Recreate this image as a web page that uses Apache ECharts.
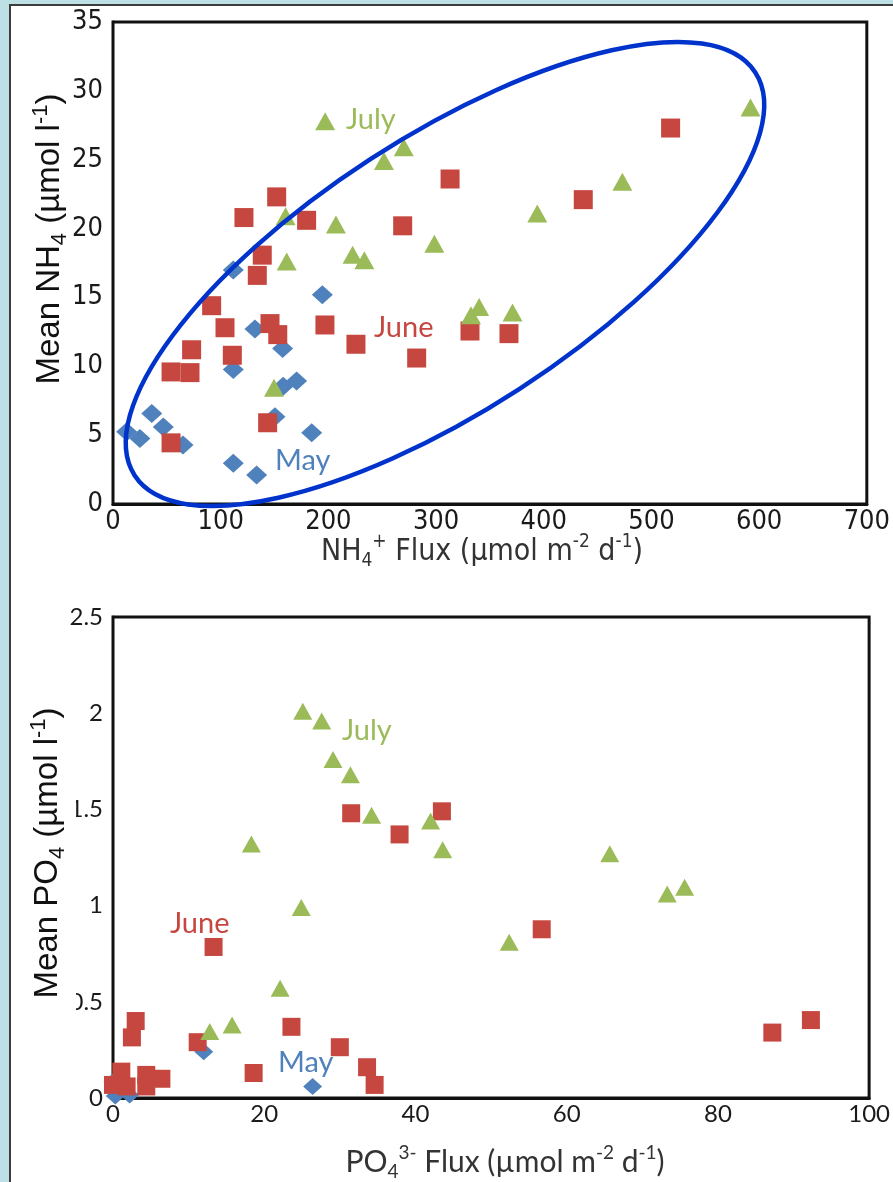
<!DOCTYPE html>
<html><head><meta charset="utf-8">
<script src="https://cdn.jsdelivr.net/npm/echarts@6/dist/echarts.min.js"></script>
<style>html,body{margin:0;padding:0;background:#bde0e5}#c{width:893px;height:1182px}</style>
</head><body><div id="c"></div><script>
// ---- Top panel: NH4 ----
var nh4XTicks = [0, 100, 200, 300, 400, 500, 600, 700];
var nh4YTicks = [0, 5, 10, 15, 20, 25, 30, 35];
var mayNH4Flux = [12.7, 25, 36, 46.7, 65, 111.7, 133.4, 111.7, 131.8, 157.5, 150.4, 158, 170.5, 184.5, 194.4, 111.7];
var mayNH4Conc = [5.24, 4.76, 6.57, 5.6, 4.28, 2.95, 2.1, 9.76, 12.7, 11.3, 6.33, 8.55, 8.94, 5.17, 15.2, 17.0];
var juneNH4Flux = [53.9, 53.9, 71.5, 73, 91.6, 104, 110.8, 145.8, 153, 196.8, 225.6, 282, 143.6, 152, 121.6, 138.6, 134, 179.8, 269, 313, 517.8, 436.7, 331.5, 367.7];
var juneNH4Conc = [4.44, 9.59, 9.54, 11.2, 14.4, 12.8, 10.8, 13.1, 12.3, 13.0, 11.6, 10.6, 5.9, 22.3, 20.8, 18.07, 16.6, 20.6, 20.2, 23.6, 27.3, 22.1, 12.56, 12.37];
var julyNH4Flux = [197, 270, 251.6, 160.3, 207, 298.4, 222.5, 233.4, 161.3, 149.5, 592, 473, 394, 340, 332.4, 371];
var julyNH4Conc = [27.8, 25.9, 24.9, 20.9, 20.3, 18.9, 18.1, 17.7, 17.6, 8.45, 28.8, 23.4, 21.1, 14.3, 13.7, 13.9];
// ---- Bottom panel: PO4 ----
var po4XTicks = [0, 20, 40, 60, 80, 100];
var po4YTicks = [0, 0.5, 1, 1.5, 2, 2.5];
var mayPO4Flux = [12, 26.4, 0, 0.3, 2.2];
var mayPO4Conc = [0.24, 0.06, 0.085, 0.01, 0.015];
var junePO4Flux = [31.5, 43.5, 37.9, 56.7, 87.2, 92.3, 13.3, 3.0, 2.5, 11.2, 23.6, 30, 18.6, 33.6, 34.6, 1.1, 0, 4.4, 6.4, 4.4, 1.8];
var junePO4Conc = [1.48, 1.49, 1.37, 0.877, 0.34, 0.405, 0.785, 0.40, 0.315, 0.29, 0.37, 0.264, 0.13, 0.16, 0.068, 0.137, 0.068, 0.12, 0.10, 0.06, 0.06];
var julyPO4Flux = [25.1, 27.6, 29.1, 31.4, 34.2, 18.3, 42, 43.6, 24.9, 65.7, 73.3, 75.6, 52.4, 22.1, 12.8, 15.75];
var julyPO4Conc = [2.01, 1.96, 1.76, 1.68, 1.47, 1.32, 1.44, 1.29, 0.99, 1.27, 1.06, 1.095, 0.81, 0.57, 0.345, 0.38];

var colors = {May: '#4f81bd', June: '#c5473f', July: '#9bbb59'};

function zip(a, b) { return a.map(function (v, i) { return [v, b[i]]; }); }

var narrow = '"Liberation Sans Narrow","DejaVu Sans Condensed","Roboto",sans-serif';
var calib = 'Lato,"Open Sans",sans-serif';
var arial = '"Liberation Sans",Arial,sans-serif';

function axisPair(gi, xt, yt, labelFont, labelSize) {
  var line = {show: true, onZero: false, lineStyle: {color: '#111', width: 3}};
  var tick = {show: true, inside: true, length: 6, lineStyle: {color: '#111', width: 2}};
  return {
    x: {type: 'value', gridIndex: gi, min: xt[0], max: xt[xt.length - 1], interval: xt[1] - xt[0],
        axisLine: line, axisTick: tick, splitLine: {show: false},
        axisLabel: {color: '#1a1a1a', fontFamily: labelFont, fontSize: labelSize, margin: 4}},
    y: {type: 'value', gridIndex: gi, min: yt[0], max: yt[yt.length - 1], interval: yt[1] - yt[0],
        axisLine: line, axisTick: tick, splitLine: {show: false},
        axisLabel: {color: '#1a1a1a', fontFamily: labelFont, fontSize: labelSize, margin: 10}}
  };
}
var a1 = axisPair(0, nh4XTicks, nh4YTicks, narrow, 27);
var a2 = axisPair(1, po4XTicks, po4YTicks, calib, 24);

function sc(name, gi, x, y, symbol, size) {
  return {type: 'scatter', name: name, xAxisIndex: gi, yAxisIndex: gi, data: zip(x, y),
    symbol: symbol, symbolSize: size, clip: false, silent: true,
    itemStyle: {color: colors[name], opacity: 1}};
}

function richTitle(text, font, size, color, subScale) {
  var s = Math.round(size * (subScale || 0.62));
  return {
    text: text,
    font: size + 'px ' + font,
    fill: color,
    align: 'center', verticalAlign: 'middle',
    rich: {
      n: {fontFamily: font, fontSize: size, lineHeight: size + 8, verticalAlign: 'middle', fill: color},
      sub: {fontFamily: font, fontSize: s, lineHeight: s, verticalAlign: 'bottom', fill: color},
      sup: {fontFamily: font, fontSize: s, lineHeight: s, verticalAlign: 'top', fill: color}
    }
  };
}

function monthLabel(t, x, y) {
  return {type: 'text', x: x, y: y, z: 50,
    style: {text: t, fill: colors[t], font: '29px ' + calib, align: 'left', verticalAlign: 'middle'}};
}

var chart = echarts.init(document.getElementById('c'), null, {renderer: 'canvas'});
var option = {
  animation: false,
  backgroundColor: '#bde0e5',
  grid: [
    {left: 113, top: 22, width: 754, height: 482, show: true, backgroundColor: '#fff', borderColor: '#111', borderWidth: 3, z: 1},
    {left: 113, top: 617, width: 760, height: 481, show: true, backgroundColor: '#fff', borderColor: '#111', borderWidth: 3, z: 1}
  ],
  xAxis: [a1.x, a2.x],
  yAxis: [a1.y, a2.y],
  series: [
    sc('May', 0, mayNH4Flux, mayNH4Conc, 'diamond', [21, 19]),
    sc('June', 0, juneNH4Flux, juneNH4Conc, 'rect', [19, 19]),
    sc('July', 0, julyNH4Flux, julyNH4Conc, 'triangle', [20, 18]),
    sc('May', 1, mayPO4Flux, mayPO4Conc, 'diamond', [19, 17]),
    sc('June', 1, junePO4Flux, junePO4Conc, 'rect', [18, 18]),
    sc('July', 1, julyPO4Flux, julyPO4Conc, 'triangle', [19, 17])
  ],
  graphic: [
    {type: 'rect', z: -10, shape: {x: 10, y: 5, width: 900, height: 1200}, style: {fill: '#fff', stroke: '#3c3c3c', lineWidth: 2}},
    {type: 'ellipse', z: 40, x: 445, y: 274, rotation: 33 * Math.PI / 180,
      shape: {cx: 0, cy: 0, rx: 370, ry: 137}, style: {fill: 'none', stroke: '#0033cc', lineWidth: 4.5}},
    monthLabel('July', 346, 120), monthLabel('June', 374, 328), monthLabel('May', 275, 461),
    monthLabel('July', 342, 731), monthLabel('June', 170, 924), monthLabel('May', 278, 1063),
    {type: 'text', z: 50, x: 482, y: 552,
      style: richTitle('{n|NH}{sub|4}{sup|+}{n| Flux (µmol m}{sup|-2}{n| d}{sup|-1}{n|)}', narrow, 30, '#333')},
    {type: 'text', z: 50, x: 505, y: 1162,
      style: richTitle('{n|PO}{sub|4}{sup|3-}{n| Flux (µmol m}{sup|-2}{n| d}{sup|-1}{n|)}', calib, 30, '#333')},
    {type: 'text', z: 50, x: 50, y: 239, rotation: Math.PI / 2,
      style: richTitle('{n|Mean NH}{sub|4}{n| (µmol l}{sup|-1}{n|)}', arial, 33, '#111', 0.66)},
    // white box behind the lower y title (it hides part of the 1.5 / 0.5 labels, as in the original)
    {type: 'rect', z: 45, shape: {x: 26, y: 705, width: 50, height: 305}, style: {fill: '#fff'}},
    {type: 'text', z: 50, x: 48, y: 853, rotation: Math.PI / 2,
      style: richTitle('{n|Mean PO}{sub|4}{n| (µmol l}{sup|-1}{n|)}', arial, 33, '#111', 0.66)}
  ]
};
chart.setOption(option);
</script></body></html>
